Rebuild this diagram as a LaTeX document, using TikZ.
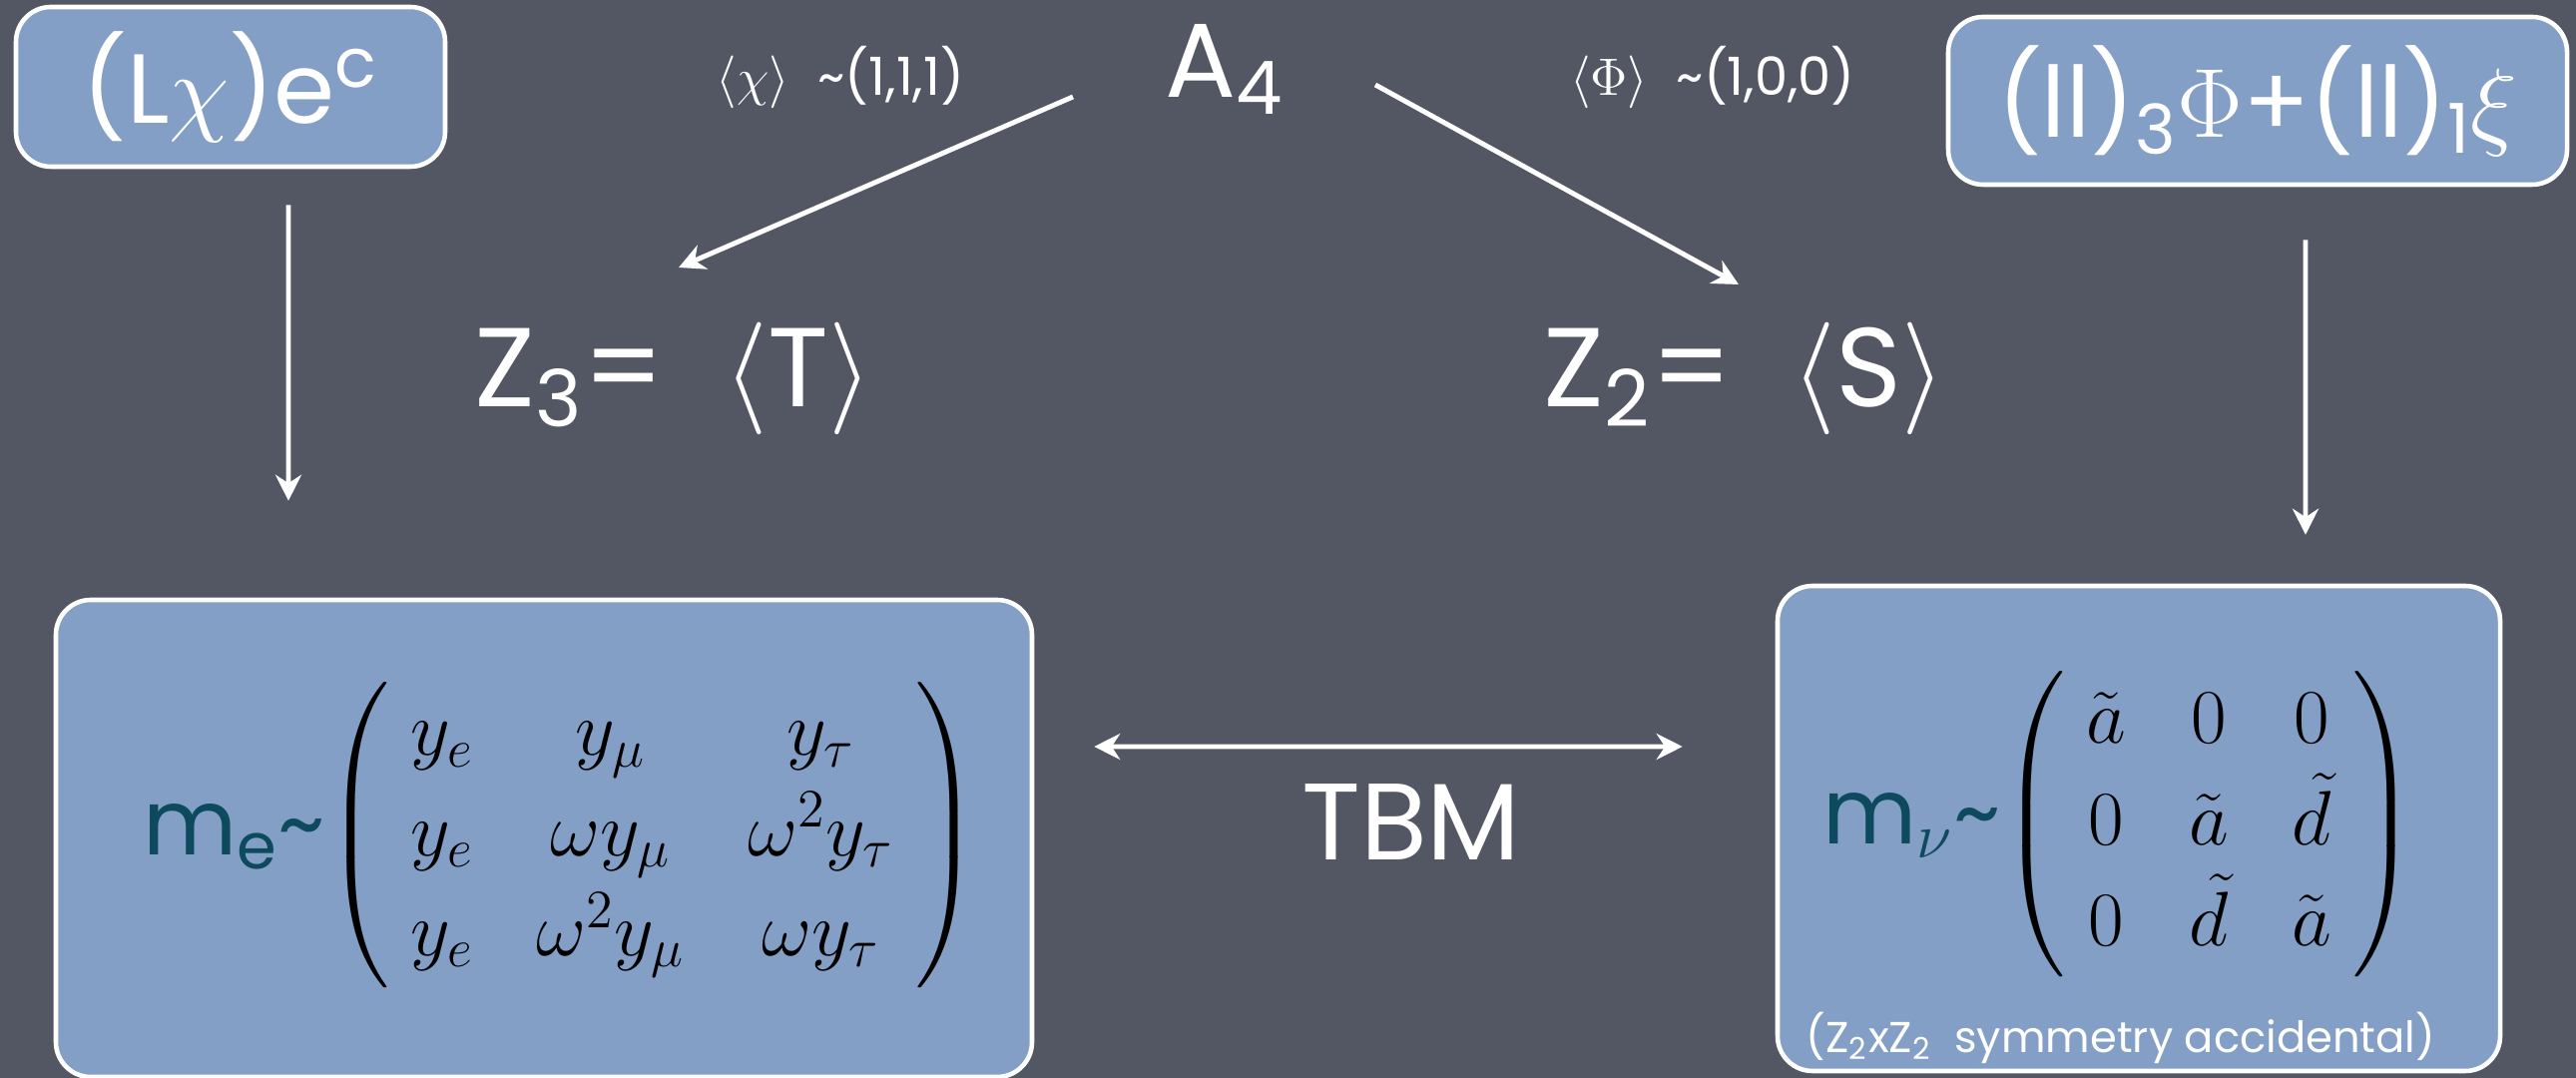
\RequirePackage{fix-cm}
\documentclass[tikz,border=0pt]{standalone}
\usepackage{amsmath}
\usepackage{fontspec}
\setmainfont{Poppins}
\usepackage{xcolor}
\usetikzlibrary{arrows.meta,positioning,calc}

\definecolor{slate}{HTML}{525763}
\definecolor{boxblue}{HTML}{839FC6}
\definecolor{mteal}{HTML}{0D4A5E}

\tikzset{
	panel/.style={draw=white, line width=1.3pt, fill=boxblue, rounded corners=0.35cm, text=white},
	arr/.style={white, line width=1.4pt, -{Stealth[length=2.6mm,width=2.6mm]}},
	twoway/.style={white, line width=1.4pt, {Stealth[length=2.6mm,width=2.6mm]}-{Stealth[length=2.6mm,width=2.6mm]}},
	big/.style={text=white, inner sep=0pt, font=\fontsize{32}{36}\selectfont},
	small/.style={text=white, inner sep=0pt, font=\fontsize{15}{18}\selectfont},
	mat/.style={text=black, inner sep=0pt, font=\fontsize{22}{28.5}\selectfont}
}

\begin{document}
\begin{tikzpicture}
	\fill[slate] (0,0) rectangle (25.81,10.80);
	\useasboundingbox (0,0) rectangle (25.81,10.80);
	
	% boxes
	\node[panel, minimum width=4.30cm, minimum height=1.60cm, font=\fontsize{28}{32}\selectfont] (lchi) at (2.31,9.93) {(L$\chi$)e\textsuperscript{c}};
	\node[panel, minimum width=6.20cm, minimum height=1.68cm, font=\fontsize{28}{32}\selectfont] (llphi) at (22.62,9.79) {(ll)\textsubscript{3}$\Phi$+(ll)\textsubscript{1}$\xi$};
	\node[panel, minimum width=9.78cm, minimum height=4.78cm] (mebox) at (5.45,2.40) {};
	\node[panel, minimum width=7.24cm, minimum height=4.86cm] (mnbox) at (21.43,2.50) {};
	
	% groups
	\node[big, font=\fontsize{30}{34}\selectfont, anchor=base] (a4) at (12.27,9.82) {A\textsubscript{4}};
	\node[small, anchor=base] (vevchi) at (8.42,9.84) {$\langle\chi\rangle$\ \ \textasciitilde(1,1,1)};
	\node[small, anchor=base] (vevphi) at (17.16,9.84) {$\langle\Phi\rangle$\ \ \textasciitilde(1,0,0)};
	\node[big, anchor=base] (z3) at (6.75,6.72) {Z\textsubscript{3}=\hspace{6mm}$\langle$T$\rangle$};
	\node[big, anchor=base] (z2) at (17.48,6.72) {Z\textsubscript{2}=\hspace{6mm}$\langle$S$\rangle$};
	\node[big, font=\fontsize{31}{35}\selectfont, anchor=base] (tbm) at (14.14,2.18) {TBM};
	
	% mass matrices
	\node[mat] (me) at (5.62,2.43) {{\fontsize{26}{30}\selectfont\color{mteal}m\textsubscript{e}\textasciitilde}\setlength\arraycolsep{9pt}$\left(\;\begin{matrix}
		y_e & y_\mu & y_\tau\\
		y_e & \omega y_\mu & \omega^2 y_\tau\\
		y_e & \omega^2 y_\mu & \omega y_\tau
	\end{matrix}\;\right)$};
	\node[mat] (mn) at (21.24,2.54) {{\fontsize{26}{30}\selectfont\color{mteal}m$_\nu$\textasciitilde}\setlength\arraycolsep{9pt}$\left(\;\begin{matrix}
		\tilde a & 0 & 0\\
		0 & \tilde a & \tilde d\\
		0 & \tilde d & \tilde a
	\end{matrix}\;\right)$};
	\node[small, font=\fontsize{12.3}{15}\selectfont] (acc) at (21.25,0.40) {(Z\textsubscript{2}xZ\textsubscript{2}\ \ symmetry accidental)};
	
	\draw[arr] ($(a4.base)+(-1.52,0.01)$) -- ($(z3.base)+(0.05,1.40)$);
	\draw[arr] ($(a4.base)+(1.51,0.13)$) -- ($(z2.base)+(-0.06,1.23)$);
	\draw[arr] ($(lchi.south)+(0.58,-0.36)$) -- ($(mebox.north)+(-2.56,0.97)$);
	\draw[arr] ($(llphi.south)+(0.48,-0.53)$) -- ($(mnbox.north)+(1.67,0.49)$);
	\draw[twoway] ($(mebox.east)+(0.60,0.92)$) -- ($(mnbox.west)+(-0.93,0.82)$);
\end{tikzpicture}
\end{document}
